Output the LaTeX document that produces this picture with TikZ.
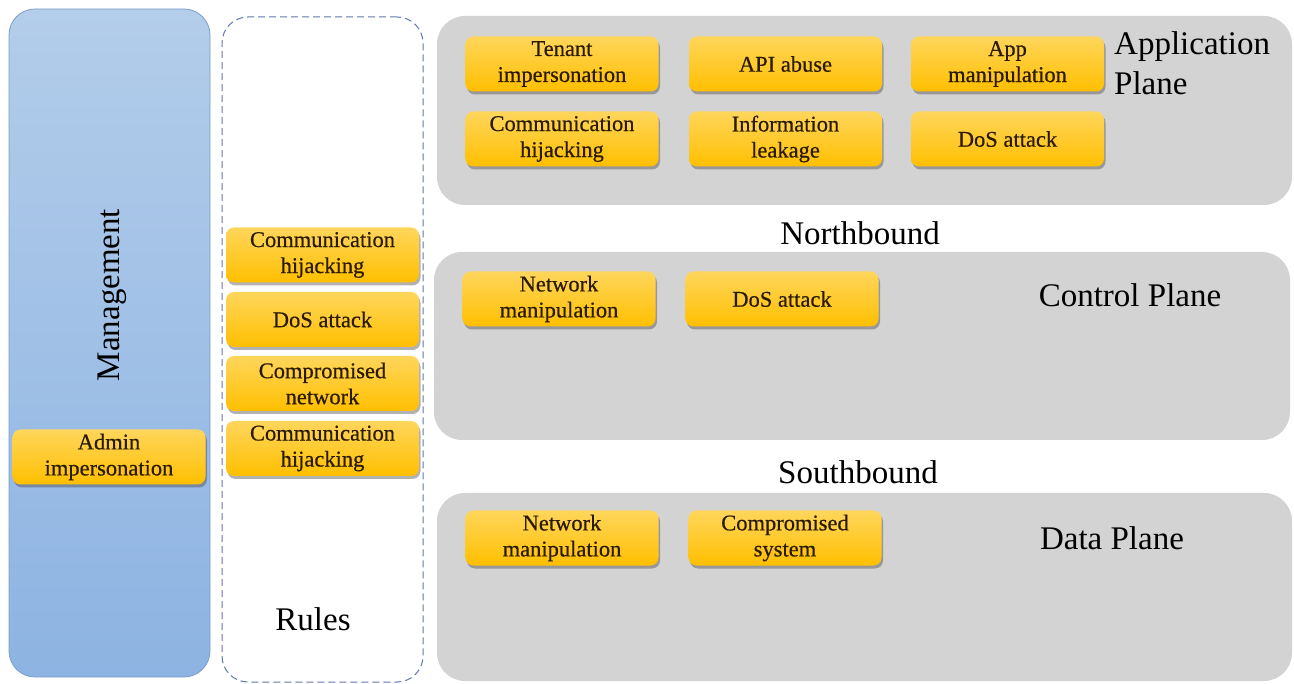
\documentclass[tikz,border=0pt]{standalone}
\usepackage{fontspec}
\setmainfont{Liberation Serif}
\newfontfamily\boxfont{Liberation Serif}[FakeBold=0.5]
\usetikzlibrary{shadows}
\definecolor{mgtop}{HTML}{B3CDEA}
\definecolor{mgbot}{HTML}{8DB3E2}
\definecolor{mgline}{HTML}{7B9DCC}
\definecolor{planefill}{HTML}{D3D3D3}
\definecolor{dashline}{HTML}{5F79AE}
\definecolor{otop}{HTML}{FFD65C}
\definecolor{obot}{HTML}{FFBF00}
\definecolor{otext}{HTML}{2A1A00}
\tikzset{
  threat/.style={rectangle, rounded corners=8pt, minimum width=193pt, minimum height=55pt,
    inner sep=0pt, top color=otop, bottom color=obot, draw=none, align=center,
    text=otext, font=\boxfont\fontsize{22.5}{26}\selectfont,
    drop shadow={shadow xshift=1.5pt, shadow yshift=-3pt, opacity=0.4, fill=black!75}},
  plane/.style={rectangle, rounded corners=28pt, fill=planefill, inner sep=0pt, draw=none},
  biglabel/.style={font=\fontsize{33}{39}\selectfont, inner sep=0pt, text=black},
}
\begin{document}
\begin{tikzpicture}[x=1pt,y=-1pt]
\useasboundingbox (0,0) rectangle (1294,684);
\fill[white] (0,0) rectangle (1294,684);
% Management panel
\node[rectangle, rounded corners=26pt, minimum width=201pt, minimum height=668pt, inner sep=0pt,
  top color=mgtop, bottom color=mgbot, draw=mgline, line width=0.8pt] (mgmt) at (109.5,343) {};
\node[biglabel, rotate=90] (mgmtlbl) at (112,295) {Management};
\node[threat] (admin) at (109,457) {Admin\\impersonation};
% Rules panel
\node[rectangle, rounded corners=26pt, minimum width=201pt, minimum height=665pt, inner sep=0pt,
  draw=dashline, dash pattern=on 7pt off 4pt, line width=1pt] (rules) at (322.5,349.5) {};
\node[threat] (r1) at (322.5,255) {Communication\\hijacking};
\node[threat] (r2) at (322.5,319.5) {DoS attack};
\node[threat] (r3) at (322.5,383.5) {Compromised\\network};
\node[threat] (r4) at (322.5,448.5) {Communication\\hijacking};
\node[biglabel] (ruleslbl) at (313,619) {Rules};
% Application plane
\node[plane, minimum width=855pt, minimum height=189pt] (app) at (864.5,110.5) {};
\node[threat] (a1) at (562,64) {Tenant\\impersonation};
\node[threat] (a2) at (785.5,64) {API abuse};
\node[threat] (a3) at (1007.5,64) {App\\manipulation};
\node[threat] (a4) at (562,139) {Communication\\hijacking};
\node[threat] (a5) at (785.5,139) {Information\\leakage};
\node[threat] (a6) at (1007.5,139) {DoS attack};
\node[biglabel, anchor=base west] (applbl1) at (1114,55) {Application};
\node[biglabel, anchor=base west] (applbl2) at (1114,95) {Plane};
% Northbound
\node[biglabel, anchor=base] (north) at (860,245) {Northbound};
% Control plane
\node[plane, minimum width=856pt, minimum height=188pt] (ctrl) at (862,346) {};
\node[threat] (c1) at (559,299) {Network\\manipulation};
\node[threat] (c2) at (782,299) {DoS attack};
\node[biglabel, anchor=base] (ctrllbl) at (1130,307) {Control Plane};
% Southbound
\node[biglabel, anchor=base] (south) at (858,484) {Southbound};
% Data plane
\node[plane, minimum width=855pt, minimum height=188pt] (data) at (864.5,587) {};
\node[threat] (d1) at (562,538) {Network\\manipulation};
\node[threat] (d2) at (785,538) {Compromised\\system};
\node[biglabel, anchor=base] (datalbl) at (1112,549) {Data Plane};
\end{tikzpicture}
\end{document}
